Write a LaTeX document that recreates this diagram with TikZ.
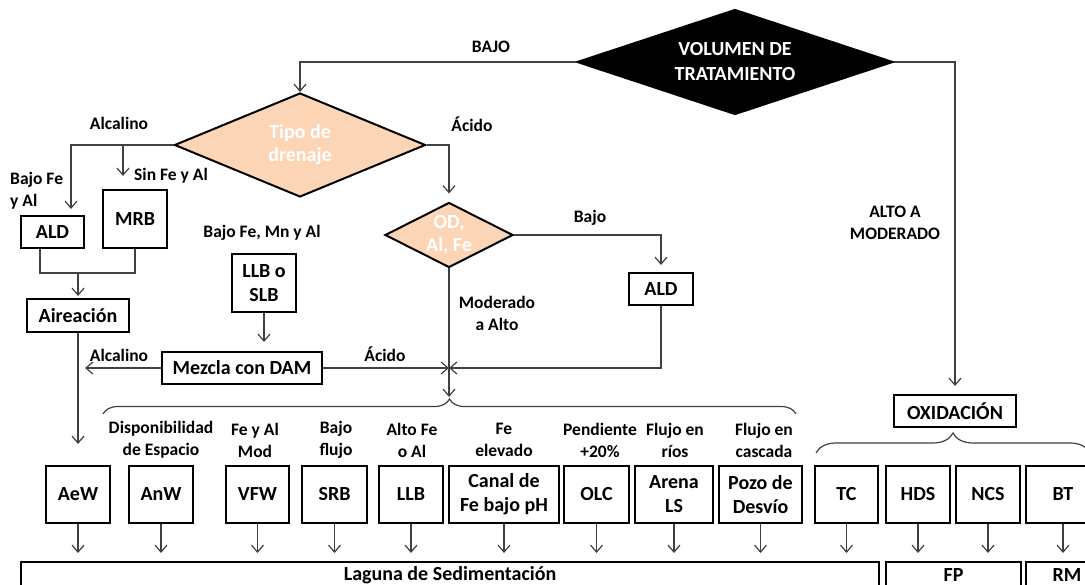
\documentclass[tikz,border=0pt]{standalone}
\usepackage{fontspec}
\setmainfont{Carlito}
\usepackage{tikz}
\usetikzlibrary{shapes.geometric, arrows.meta, calc, decorations.pathreplacing}
\definecolor{peach}{HTML}{FBD5B5}
\tikzset{%
  block/.style={rectangle, draw, line width=2pt, font=\bfseries\fontsize{20}{24}\selectfont, align=center, inner sep=0pt},
  decision/.style={diamond, draw, line width=2pt, fill=peach, text=white, font=\bfseries\fontsize{20}{23}\selectfont, align=center, inner sep=0pt},
  darkdecision/.style={decision, fill=black, font=\bfseries\fontsize{20}{25}\selectfont},
  tag/.style={font=\bfseries\fontsize{17.5}{22}\selectfont, align=center, inner sep=0pt},
  line/.style={draw, black!75, line width=1.2pt, -{Straight Barb[length=7pt, width=12pt]}, shorten >=6pt},
  link/.style={draw, black!75, line width=1.2pt},
  curly/.style={draw, black!75, line width=1.2pt, decorate, decoration={brace, amplitude=#1}}}

\begin{document}
\begin{tikzpicture}[x=1pt, y=-1pt]
    \useasboundingbox (0, 0) rectangle (1085, 585);
    \clip (0, 0) rectangle (1085, 585);

    \node [darkdecision, aspect=3, minimum width=316, minimum height=105] (volumen) at (735, 62) {VOLUMEN DE\\TRATAMIENTO};
    \node [decision, aspect=2.4, minimum width=251, minimum height=104] (tipo) at (300, 145) {Tipo de\\drenaje};
    \node [decision, aspect=2, minimum width=128, minimum height=65] (od) at (449, 235) {OD,\\Al, Fe};

    \node [block, minimum width=63, minimum height=32] (aldA) at (52.5, 232) {ALD};
    \node [block, minimum width=64, minimum height=58] (mrb) at (135, 219) {MRB};
    \node [block, minimum width=102, minimum height=33] (aireacion) at (78, 315.5) {Aireación};
    \node [block, minimum width=64, minimum height=58] (llbslb) at (264, 283) {LLB o\\SLB};
    \node [block, minimum width=160, minimum height=32] (mezcla) at (242, 368) {Mezcla con DAM};
    \node [block, minimum width=64, minimum height=32] (aldB) at (661, 289) {ALD};
    \node [block, minimum width=122, minimum height=32] (oxidacion) at (955, 411) {OXIDACIÓN};

    \node [tag] (bajoA) at (491, 47) {BAJO};
    \node [tag] (altomod) at (895, 223) {ALTO A\\MODERADO};
    \node [tag] (alcalinoA) at (119, 123) {Alcalino};
    \node [tag] (acidoA) at (472, 124) {Ácido};
    \node [tag, anchor=west, align=left] (bajofeal) at (10, 190.5) {Bajo Fe\\y Al};
    \node [tag] (sinfeal) at (171, 176) {Sin Fe y Al};
    \node [tag] (bajofemnal) at (262, 233) {Bajo Fe, Mn y Al};
    \node [tag] (bajoB) at (590, 218) {Bajo};
    \node [tag] (modalto) at (497, 313) {Moderado\\a Alto};
    \node [tag] (alcalinoB) at (119, 355) {Alcalino};
    \node [tag] (acidoB) at (385, 354) {Ácido};

    % treatment options
    \foreach \name/\x/\w/\txt in {aew/78/64/AeW, anw/161/64/AnW, vfw/257.5/63/VFW, srb/334.5/65/SRB,
        llbb/411/64/LLB, canal/504/110/{Canal de\\Fe bajo pH}, olc/596.5/65/OLC, arena/674/78/{Arena\\LS},
        pozo/760.5/83/{Pozo de\\Desvío}, tc/846.5/63/TC, hds/918/64/HDS, ncs/988/64/NCS, bt/1063/74/BT}
      \node [block, minimum width=\w, minimum height=57] (\name) at (\x, 494.5) {\txt};

    \foreach \name/\x/\txt in {anw/161/{Disponibilidad\\de Espacio}, vfw/255/{Fe y Al\\Mod}, srb/336/{Bajo\\flujo},
        llbb/412/{Alto Fe\\o Al}, canal/504/{Fe\\elevado}, olc/600/{Pendiente\\+20\%},
        arena/675/{Flujo en\\ríos}, pozo/764/{Flujo en\\cascada}}
      \node [tag] (\name-cond) at (\x, 440) {\txt};

    \node [block, minimum width=858, minimum height=26] (laguna) at (450, 575) {Laguna de Sedimentación};
    \node [block, minimum width=135, minimum height=26] (fp) at (953.5, 575) {FP};
    \node [block, minimum width=82, minimum height=26] (rm) at (1067, 575) {RM};

    \path [line, shorten >=0pt] (volumen.west) -| (tipo.north);
    \path [line, shorten >=8pt] (volumen.east) -| (oxidacion.north);

    \coordinate (mrbtip) at (123, 176);
    \path [line] (tipo.west) -| ($(aldA.north)+(18.5,0)$);
    \path [line, shorten >=0pt] (tipo.west -| mrbtip) -- (mrbtip);
    \path [line, shorten >=8pt] (tipo.east) -| (od.north);
    \path [line, shorten >=7pt] (od.east) -| (aldB.north);

    \coordinate (alkjoin) at (78, 273);
    \path [link] ($(aldA.south)+(-12.5,0)$) |- (alkjoin) -| (mrb.south);
    \path [line, shorten >=2pt] (alkjoin) -- (aireacion.north);
    \path [line, shorten >=21pt] (aireacion.south) -- (aew.north);
    \path [line, shorten >=9pt] (llbslb.south) -- (llbslb.south |- mezcla.north);

    \coordinate (merge) at (od.south |- mezcla.east);
    \coordinate (spread) at (449, 397);
    \path [line, shorten >=0pt] (mezcla.east) -- (merge);
    \path [line, shorten >=0pt] (aldB.south) |- (merge);
    \path [line, shorten >=0pt] (od.south) -- (spread);
    \path [line, shorten >=7pt] (mezcla.west) -- (aireacion.south |- mezcla.west);

    \path [curly=15pt] (103, 414) -- (796, 414);
    \path [curly=20pt] (816, 453) -- (1090, 453);

    \foreach \name in {aew, anw, vfw, srb, llbb, canal, olc, arena, pozo, tc}
      \path [line, shorten >=8pt] (\name.south) -- (\name.south |- laguna.north);
    \foreach \name in {hds, ncs}
      \path [line, shorten >=8pt] (\name.south) -- (\name.south |- fp.north);
    \path [line, shorten >=8pt] (bt.south) -- (bt.south |- rm.north);
  \end{tikzpicture}
\end{document}
